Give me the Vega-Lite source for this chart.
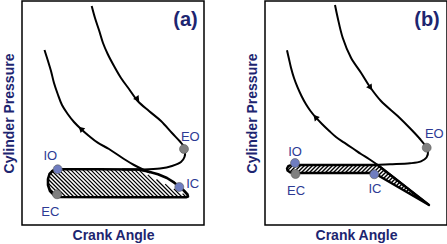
{
  "$schema": "https://vega.github.io/schema/vega-lite/v6.json",
  "background": "white",
  "padding": {"left": 1, "top": 0, "right": 0, "bottom": 0},
  "spacing": 39,
  "datasets": {
    "a_curves": [
      {"s":"exp","o":1,"x":69.7,"y":5},{"s":"exp","o":2,"x":73,"y":17},{"s":"exp","o":3,"x":77.3,"y":30},{"s":"exp","o":4,"x":81,"y":42},{"s":"exp","o":5,"x":85.7,"y":53},{"s":"exp","o":6,"x":92,"y":65},{"s":"exp","o":7,"x":99,"y":77},{"s":"exp","o":8,"x":107,"y":88},{"s":"exp","o":9,"x":115.7,"y":100},{"s":"exp","o":10,"x":127,"y":110},{"s":"exp","o":11,"x":139,"y":120},{"s":"exp","o":12,"x":150,"y":132},{"s":"exp","o":13,"x":158,"y":140.5},{"s":"exp","o":14,"x":161.5,"y":145},{"s":"exp","o":15,"x":163,"y":150},{"s":"exp","o":16,"x":162.5,"y":156},{"s":"exp","o":17,"x":159,"y":161},{"s":"exp","o":18,"x":150,"y":165},{"s":"exp","o":19,"x":138,"y":167.5},{"s":"exp","o":20,"x":120,"y":168.5},{"s":"exp","o":21,"x":100,"y":168.5},
      {"s":"comp","o":1,"x":22.5,"y":49},{"s":"comp","o":2,"x":26,"y":60},{"s":"comp","o":3,"x":29,"y":70},{"s":"comp","o":4,"x":32,"y":82},{"s":"comp","o":5,"x":35.7,"y":93},{"s":"comp","o":6,"x":40,"y":104},{"s":"comp","o":7,"x":45.7,"y":113},{"s":"comp","o":8,"x":52,"y":121},{"s":"comp","o":9,"x":59,"y":128},{"s":"comp","o":10,"x":67,"y":135},{"s":"comp","o":11,"x":75.7,"y":141.7},{"s":"comp","o":12,"x":87,"y":148},{"s":"comp","o":13,"x":102,"y":158},{"s":"comp","o":14,"x":112,"y":164},{"s":"comp","o":15,"x":121,"y":168.5},{"s":"comp","o":16,"x":128,"y":171.5}
    ],
    "a_loop": [
      {"o":1,"x":36,"y":168.3},{"o":2,"x":76,"y":168.3},{"o":3,"x":116,"y":168.5},{"o":4,"x":126,"y":170.5},{"o":5,"x":136,"y":173.3},{"o":6,"x":145,"y":177},{"o":7,"x":152.3,"y":181.7},{"o":8,"x":158,"y":186},{"o":9,"x":162.3,"y":190},{"o":10,"x":165.5,"y":193.5},{"o":11,"x":166,"y":195.5},{"o":12,"x":164,"y":196.2},{"o":13,"x":99,"y":196.2},{"o":14,"x":36,"y":196},{"o":15,"x":32,"y":194},{"o":16,"x":28,"y":190},{"o":17,"x":26,"y":184},{"o":18,"x":26,"y":178},{"o":19,"x":27.5,"y":173},{"o":20,"x":31,"y":169.5},{"o":21,"x":36,"y":168.3}
    ],
    "a_hatch": [
      {"x":160.6,"y":192.6,"x2":164,"y2":196},{"x":151.9,"y":187.9,"x2":160,"y2":196},{"x":143.2,"y":183.2,"x2":156,"y2":196},{"x":134.5,"y":178.5,"x2":152,"y2":196},{"x":125.8,"y":173.8,"x2":148,"y2":196},{"x":117.1,"y":169.1,"x2":144,"y2":196},
      {"x":112.3,"y":168.3,"x2":140,"y2":196},{"x":108.3,"y":168.3,"x2":136,"y2":196},{"x":104.3,"y":168.3,"x2":132,"y2":196},{"x":100.3,"y":168.3,"x2":128,"y2":196},{"x":96.3,"y":168.3,"x2":124,"y2":196},{"x":92.3,"y":168.3,"x2":120,"y2":196},{"x":88.3,"y":168.3,"x2":116,"y2":196},{"x":84.3,"y":168.3,"x2":112,"y2":196},{"x":80.3,"y":168.3,"x2":108,"y2":196},{"x":76.3,"y":168.3,"x2":104,"y2":196},{"x":72.3,"y":168.3,"x2":100,"y2":196},{"x":68.3,"y":168.3,"x2":96,"y2":196},{"x":64.3,"y":168.3,"x2":92,"y2":196},{"x":60.3,"y":168.3,"x2":88,"y2":196},{"x":56.3,"y":168.3,"x2":84,"y2":196},{"x":52.3,"y":168.3,"x2":80,"y2":196},{"x":48.3,"y":168.3,"x2":76,"y2":196},{"x":44.3,"y":168.3,"x2":72,"y2":196},{"x":40.3,"y":168.3,"x2":68,"y2":196},{"x":36.3,"y":168.3,"x2":64,"y2":196},
      {"x":32.5,"y":168.5,"x2":60,"y2":196},{"x":29.5,"y":169.5,"x2":56,"y2":196},{"x":28.5,"y":172.5,"x2":52,"y2":196},{"x":27,"y":175,"x2":48,"y2":196},{"x":26,"y":178,"x2":44,"y2":196},{"x":26,"y":182,"x2":40,"y2":196},{"x":27,"y":187,"x2":36,"y2":196}
    ],
    "a_arrows": [
      {"x":115,"y":97.5,"a":144},{"x":59.5,"y":128.3,"a":313}
    ],
    "a_pts": [
      {"n":"IO","k":"in","x":35.7,"y":168.3},{"n":"EC","k":"ex","x":35,"y":193.3},{"n":"IC","k":"in","x":157.3,"y":186},{"n":"EO","k":"ex","x":162,"y":148}
    ],
    "a_labels": [
      {"t":"IO","x":28.3,"y":155},{"t":"EC","x":28.3,"y":210.7},{"t":"IC","x":170.7,"y":183.3},{"t":"EO","x":168.3,"y":135.5}
    ],
    "a_tag": [{"t":"(a)","x":163.5,"y":19}],
    "b_curves": [
      {"s":"exp","o":1,"x":70,"y":4},{"s":"exp","o":2,"x":72.7,"y":16.7},{"s":"exp","o":3,"x":77.7,"y":36.7},{"s":"exp","o":4,"x":86,"y":56.7},{"s":"exp","o":5,"x":96,"y":71.7},{"s":"exp","o":6,"x":105,"y":86},{"s":"exp","o":7,"x":116,"y":100},{"s":"exp","o":8,"x":132.7,"y":115},{"s":"exp","o":9,"x":146,"y":128.3},{"s":"exp","o":10,"x":155,"y":138},{"s":"exp","o":11,"x":160.5,"y":145},{"s":"exp","o":12,"x":163,"y":150.5},{"s":"exp","o":13,"x":161.5,"y":156.5},{"s":"exp","o":14,"x":156,"y":160.3},{"s":"exp","o":15,"x":145,"y":162.3},{"s":"exp","o":16,"x":125,"y":163.3},{"s":"exp","o":17,"x":110,"y":164},{"s":"exp","o":18,"x":95,"y":164},
      {"s":"comp","o":1,"x":22,"y":49.3},{"s":"comp","o":2,"x":24,"y":58},{"s":"comp","o":3,"x":26,"y":66.7},{"s":"comp","o":4,"x":29,"y":77},{"s":"comp","o":5,"x":32.7,"y":86.7},{"s":"comp","o":6,"x":36.5,"y":95},{"s":"comp","o":7,"x":41,"y":103.3},{"s":"comp","o":8,"x":45.5,"y":110},{"s":"comp","o":9,"x":51,"y":116.7},{"s":"comp","o":10,"x":57,"y":123},{"s":"comp","o":11,"x":64.3,"y":130},{"s":"comp","o":12,"x":71,"y":136},{"s":"comp","o":13,"x":79.3,"y":141.7},{"s":"comp","o":14,"x":88,"y":147.5},{"s":"comp","o":15,"x":96,"y":153},{"s":"comp","o":16,"x":104,"y":158},{"s":"comp","o":17,"x":112.7,"y":164},{"s":"comp","o":18,"x":125,"y":173.6},{"s":"comp","o":19,"x":140,"y":185.3},{"s":"comp","o":20,"x":152,"y":194.7},{"s":"comp","o":21,"x":164,"y":204}
    ],
    "b_loop": [
      {"o":1,"x":26,"y":164},{"o":2,"x":112.7,"y":164},{"o":3,"x":164,"y":204},{"o":4,"x":109,"y":172},{"o":5,"x":29,"y":172},{"o":6,"x":25,"y":171.3},{"o":7,"x":22.5,"y":169.5},{"o":8,"x":22,"y":167.5},{"o":9,"x":23.3,"y":165.2},{"o":10,"x":26,"y":164}
    ],
    "b_hatch": [
      {"x":23,"y":169,"x2":28,"y2":164},{"x":25.5,"y":170.5,"x2":32,"y2":164},{"x":28.5,"y":171.5,"x2":36,"y2":164},
      {"x":32,"y":172,"x2":40,"y2":164},{"x":36,"y":172,"x2":44,"y2":164},{"x":40,"y":172,"x2":48,"y2":164},{"x":44,"y":172,"x2":52,"y2":164},{"x":48,"y":172,"x2":56,"y2":164},{"x":52,"y":172,"x2":60,"y2":164},{"x":56,"y":172,"x2":64,"y2":164},{"x":60,"y":172,"x2":68,"y2":164},{"x":64,"y":172,"x2":72,"y2":164},{"x":68,"y":172,"x2":76,"y2":164},{"x":72,"y":172,"x2":80,"y2":164},{"x":76,"y":172,"x2":84,"y2":164},{"x":80,"y":172,"x2":88,"y2":164},{"x":84,"y":172,"x2":92,"y2":164},{"x":88,"y":172,"x2":96,"y2":164},{"x":92,"y":172,"x2":100,"y2":164},{"x":96,"y":172,"x2":104,"y2":164},{"x":100,"y":172,"x2":108,"y2":164},{"x":104,"y":172,"x2":112,"y2":164},
      {"x":108,"y":172,"x2":114.5,"y2":165.5},{"x":110.9,"y":173.1,"x2":116.8,"y2":167.2},{"x":113.4,"y":174.6,"x2":119,"y2":169},{"x":115.9,"y":176.1,"x2":121.3,"y2":170.7},{"x":118.5,"y":177.5,"x2":123.5,"y2":172.5},{"x":121,"y":179,"x2":125.8,"y2":174.2},{"x":123.5,"y":180.5,"x2":128,"y2":176},{"x":126,"y":182,"x2":130.3,"y2":177.7},{"x":128.6,"y":183.4,"x2":132.5,"y2":179.5},{"x":131.1,"y":184.9,"x2":134.8,"y2":181.2},{"x":133.6,"y":186.4,"x2":137,"y2":183},{"x":136.2,"y":187.8,"x2":139.3,"y2":184.7},{"x":138.7,"y":189.3,"x2":141.5,"y2":186.5},{"x":141.2,"y":190.8,"x2":143.8,"y2":188.2},{"x":143.7,"y":192.3,"x2":146,"y2":190},{"x":146.3,"y":193.7,"x2":148.3,"y2":191.7},{"x":148.8,"y":195.2,"x2":150.5,"y2":193.5},{"x":151.3,"y":196.7,"x2":152.8,"y2":195.2},{"x":153.9,"y":198.1,"x2":155,"y2":197},{"x":156.4,"y":199.6,"x2":157.2,"y2":198.8}
    ],
    "b_arrows": [
      {"x":105,"y":86,"a":145},{"x":51,"y":116.7,"a":318}
    ],
    "b_pts": [
      {"n":"IO","k":"in","x":30,"y":162},{"n":"EC","k":"ex","x":30.5,"y":173},{"n":"IC","k":"in","x":109.3,"y":173.3},{"n":"EO","k":"ex","x":161.7,"y":146.7}
    ],
    "b_labels": [
      {"t":"IO","x":30,"y":151},{"t":"EC","x":31,"y":190},{"t":"IC","x":110,"y":188.3},{"t":"EO","x":169.3,"y":133}
    ],
    "b_tag": [{"t":"(b)","x":162,"y":19}]
  },
  "hconcat": [
    {
      "width": 182, "height": 224,
      "encoding": {
        "x": {"field": "x", "type": "quantitative", "scale": {"domain": [0, 182]}, "title": "Crank Angle"},
        "y": {"field": "y", "type": "quantitative", "scale": {"domain": [0, 224], "reverse": true}, "title": "Cylinder Pressure"}
      },
      "layer": [
        {"data": {"name": "a_hatch"}, "mark": {"type": "rule", "color": "black", "strokeWidth": 1.2},
         "encoding": {"x2": {"field": "x2"}, "y2": {"field": "y2"}}},
        {"data": {"name": "a_loop"}, "mark": {"type": "line", "color": "black", "strokeWidth": 2.6, "interpolate": "linear", "strokeJoin": "round"},
         "encoding": {"order": {"field": "o", "type": "quantitative"}}},
        {"data": {"name": "a_curves"}, "mark": {"type": "line", "color": "black", "strokeWidth": 2, "interpolate": "catmull-rom"},
         "encoding": {"detail": {"field": "s"}, "order": {"field": "o", "type": "quantitative"}}},
        {"data": {"name": "a_arrows"}, "mark": {"type": "point", "shape": "triangle", "filled": true, "color": "black", "size": 45, "opacity": 1},
         "encoding": {"angle": {"field": "a", "type": "quantitative", "scale": null}}},
        {"data": {"name": "a_pts"}, "mark": {"type": "point", "shape": "circle", "filled": true, "size": 80, "opacity": 1, "stroke": "#5a5a5a", "strokeWidth": 0.6},
         "encoding": {"fill": {"field": "k", "type": "nominal", "scale": {"domain": ["in", "ex"], "range": ["#6f7dc0", "#808080"]}, "legend": null}}},
        {"data": {"name": "a_labels"}, "mark": {"type": "text", "font": "Liberation Sans", "fontSize": 13, "color": "#2d3a94", "align": "center", "baseline": "middle"},
         "encoding": {"text": {"field": "t"}}},
        {"data": {"name": "a_tag"}, "mark": {"type": "text", "font": "Liberation Sans", "fontSize": 20, "fontWeight": "bold", "color": "#1d2570", "align": "center", "baseline": "middle"},
         "encoding": {"text": {"field": "t"}}}
      ]
    },
    {
      "width": 182, "height": 224,
      "encoding": {
        "x": {"field": "x", "type": "quantitative", "scale": {"domain": [0, 182]}, "title": "Crank Angle"},
        "y": {"field": "y", "type": "quantitative", "scale": {"domain": [0, 224], "reverse": true}, "title": "Cylinder Pressure"}
      },
      "layer": [
        {"data": {"name": "b_hatch"}, "mark": {"type": "rule", "color": "black", "strokeWidth": 1.4},
         "encoding": {"x2": {"field": "x2"}, "y2": {"field": "y2"}}},
        {"data": {"name": "b_loop"}, "mark": {"type": "line", "color": "black", "strokeWidth": 2.4, "interpolate": "linear", "strokeJoin": "round"},
         "encoding": {"order": {"field": "o", "type": "quantitative"}}},
        {"data": {"name": "b_curves"}, "mark": {"type": "line", "color": "black", "strokeWidth": 2, "interpolate": "catmull-rom"},
         "encoding": {"detail": {"field": "s"}, "order": {"field": "o", "type": "quantitative"}}},
        {"data": {"name": "b_arrows"}, "mark": {"type": "point", "shape": "triangle", "filled": true, "color": "black", "size": 45, "opacity": 1},
         "encoding": {"angle": {"field": "a", "type": "quantitative", "scale": null}}},
        {"data": {"name": "b_pts"}, "mark": {"type": "point", "shape": "circle", "filled": true, "size": 80, "opacity": 1, "stroke": "#5a5a5a", "strokeWidth": 0.6},
         "encoding": {"fill": {"field": "k", "type": "nominal", "scale": {"domain": ["in", "ex"], "range": ["#6f7dc0", "#808080"]}, "legend": null}}},
        {"data": {"name": "b_labels"}, "mark": {"type": "text", "font": "Liberation Sans", "fontSize": 13, "color": "#2d3a94", "align": "center", "baseline": "middle"},
         "encoding": {"text": {"field": "t"}}},
        {"data": {"name": "b_tag"}, "mark": {"type": "text", "font": "Liberation Sans", "fontSize": 20, "fontWeight": "bold", "color": "#1d2570", "align": "center", "baseline": "middle"},
         "encoding": {"text": {"field": "t"}}}
      ]
    }
  ],
  "resolve": {"scale": {"fill": "shared"}},
  "config": {
    "view": {"stroke": "black", "strokeWidth": 1.5},
    "axis": {"labels": false, "ticks": false, "domain": false, "grid": false, "titleFont": "Liberation Sans", "titleFontSize": 14, "titleFontWeight": "bold", "titleColor": "#1d2570"},
    "axisX": {"titlePadding": 3},
    "axisY": {"titlePadding": 6}
  }
}
